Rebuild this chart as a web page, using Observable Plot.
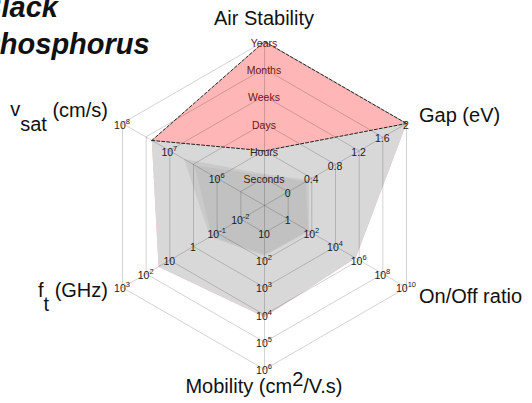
<!DOCTYPE html>
<html><head><meta charset="utf-8">
<script src="https://cdn.jsdelivr.net/npm/d3@7"></script>
<script src="https://cdn.jsdelivr.net/npm/@observablehq/plot@0.6"></script>
<style>
body{margin:0;background:#fff;}
#chart{position:relative;width:532px;height:403px;overflow:hidden;}
</style>
</head><body><div id="chart"></div>
<script>
// ---------- data ----------
const title = ["Black", "Phosphorus"];
const axisNames = ["Air Stability", "Gap (eV)", "On/Off ratio", "Mobility", "f_t", "v_sat"];
const airStabilityLevels = ["Seconds", "Hours", "Days", "Weeks", "Months", "Years"];
const gapTicks = [0, 0.4, 0.8, 1.2, 1.6, 2];
const onOffTicks = [1, 1e2, 1e4, 1e6, 1e8, 1e10];
const mobilityTicks = [10, 1e2, 1e3, 1e4, 1e5, 1e6];
const ftTicks = [1e-2, 1e-1, 1, 10, 1e2, 1e3];
const vsatTicks = [1e6, 1e7, 1e8];

// values per axis: [air stability level (1=Seconds … 6=Years), gap eV, on/off ratio, mobility cm2/V.s, f_t GHz, v_sat cm/s]
const stableUpper = [6, 2, 5e5, 1.2e4, 30, 2.4e7];
const bestValues = [2, 2, 5e5, 1.2e4, 30, 2.4e7];
const typicalValues = [1.15, 0.35, 60, 70, 0.2, 5e6];
const lowValues = [1.1, 0.3, 50, 62, 0.17, 3e6];

// ---------- per-axis radial scales (ring index 1..6) ----------
const ringScales = [
  d3.scaleLinear().domain([1, 6]).range([1, 6]),
  d3.scaleLinear().domain([0, 2]).range([1, 6]),
  d3.scaleLog().domain([1, 1e10]).range([1, 6]),
  d3.scaleLog().domain([10, 1e6]).range([1, 6]),
  d3.scaleLog().domain([1e-2, 1e3]).range([1, 6]),
  d3.scaleLog().domain([1e6, 1e8]).range([2, 6])
];
const angles = [90, 30, -30, -90, -150, 150].map(d => d * Math.PI / 180);

function toPts(vals) {
  return vals.map((v, i) => {
    const r = ringScales[i](v);
    return {axis: i, x: r * Math.cos(angles[i]), y: r * Math.sin(angles[i])};
  });
}
const topPath = pts => [pts[5], pts[0], pts[1]];

const ringPts = [];
for (let k = 1; k <= 6; k++) for (let i = 0; i < 6; i++)
  ringPts.push({ring: k, x: k * Math.cos(angles[i]), y: k * Math.sin(angles[i])});
const spokes = angles.map(a => ({x1: 0, y1: 0, x2: 6 * Math.cos(a), y2: 6 * Math.sin(a)}));

const U = 27.33, CX = 264, CY = 205, W = 532, H = 403;
const FONT = "'Liberation Sans', Arial, Helvetica, sans-serif";

const upperPts = toPts(stableUpper), bestPts = toPts(bestValues);

const plot = Plot.plot({
  width: W, height: H, margin: 0,
  x: {domain: [-CX / U, (W - CX) / U], axis: null},
  y: {domain: [-(H - CY) / U, CY / U], axis: null},
  style: {background: "white", fontFamily: FONT, overflow: "visible"},
  marks: [
    Plot.line(upperPts, {x: "x", y: "y", curve: "linear-closed", fill: "#ffb6b6", stroke: "none"}),
    Plot.line(bestPts, {x: "x", y: "y", curve: "linear-closed", fill: "#d8d8d8", stroke: "none"}),
    Plot.line(toPts(typicalValues), {x: "x", y: "y", curve: "linear-closed", fill: "#cacaca", stroke: "none"}),
    Plot.line(toPts(lowValues), {x: "x", y: "y", curve: "linear-closed", fill: "#c1c1c1", stroke: "none"}),
    Plot.line(ringPts, {x: "x", y: "y", z: "ring", curve: "linear-closed", stroke: "#000", strokeOpacity: 0.2, strokeWidth: 0.9}),
    Plot.link(spokes, {x1: "x1", y1: "y1", x2: "x2", y2: "y2", stroke: "#000", strokeOpacity: 0.2, strokeWidth: 0.9}),
    Plot.line(topPath(upperPts), {x: "x", y: "y", stroke: "#222", strokeWidth: 1, strokeDasharray: "3,2"}),
    Plot.line(topPath(bestPts), {x: "x", y: "y", stroke: "#222", strokeWidth: 1, strokeDasharray: "3,2"})
  ]
});
document.getElementById("chart").appendChild(plot);

// ---------- text via the plot's scales ----------
function scaleFn(name) {
  const s = plot.scale(name);
  if (s && typeof s.apply === "function") return v => s.apply(v);
  return d3.scaleLinear().domain(s.domain).range(s.range);
}
const X = scaleFn("x"), Y = scaleFn("y");
const svg = d3.select(plot);
const g = svg.append("g").attr("font-family", FONT).attr("text-anchor", "start");

function vertex(i, r) { return [X(r * Math.cos(angles[i])), Y(r * Math.sin(angles[i]))]; }

function powLabel(t) {
  if (t === 1) return {base: "1"};
  if (t === 10) return {base: "10"};
  return {base: "10", exp: String(Math.round(Math.log10(t)))};
}

const tickSets = [
  airStabilityLevels.map((s, k) => ({v: k + 1, base: s})),
  gapTicks.map(t => ({v: t, base: String(t)})),
  onOffTicks.map(t => ({v: t, ...powLabel(t)})),
  mobilityTicks.map(t => ({v: t, ...powLabel(t)})),
  ftTicks.map(t => ({v: t, ...powLabel(t)})),
  vsatTicks.map(t => ({v: t, ...powLabel(t)}))
];

tickSets.forEach((ticks, i) => {
  ticks.forEach(t => {
    const r = ringScales[i](t.v);
    const [px, py] = vertex(i, r);
    const txt = g.append("text")
      .attr("x", px).attr("y", py + 5.5)
      .attr("text-anchor", "middle")
      .attr("font-size", 10.5)
      .attr("fill", i === 0 ? (r > 2.5 ? "#6e1616" : "#3a2020") : "#1a1a1a");
    txt.append("tspan").text(t.base);
    if (t.exp) txt.append("tspan").attr("dy", -5).attr("font-size", 7.5).text(t.exp);
  });
});

// axis titles
function axisTitle(i, dx, dy, anchor, parts) {
  const [px, py] = vertex(i, 6);
  const txt = g.append("text").attr("x", px + dx).attr("y", py + dy)
    .attr("text-anchor", anchor).attr("font-size", 20).attr("fill", "#111");
  parts.forEach(p => {
    const ts = txt.append("tspan").text(p.t);
    if (p.dy) ts.attr("dy", p.dy);
  });
}
axisTitle(0, 0, -16, "middle", [{t: axisNames[0]}]);
axisTitle(1, 13, -1, "start", [{t: axisNames[1]}]);
axisTitle(2, 13, 16, "start", [{t: axisNames[2]}]);
axisTitle(3, 0, 24, "middle", [{t: "Mobility (cm"}, {t: "2", dy: -7}, {t: "/V.s)", dy: 7}]);
axisTitle(4, -14, 10, "end", [{t: "f"}, {t: "t", dy: 14}, {t: "\u00a0(GHz)", dy: -14}]);
axisTitle(5, -14, -7, "end", [{t: "v"}, {t: "sat", dy: 15}, {t: "\u00a0(cm/s)", dy: -14}]);

// title (partly cut at the left edge)
title.forEach((s, k) => {
  g.append("text").attr("x", -19.5).attr("y", 17 + k * 36.5)
    .attr("text-anchor", "start")
    .attr("font-size", 29).attr("font-weight", "bold").attr("font-style", "italic")
    .attr("fill", "#111").text(s);
});
</script>
</body></html>
